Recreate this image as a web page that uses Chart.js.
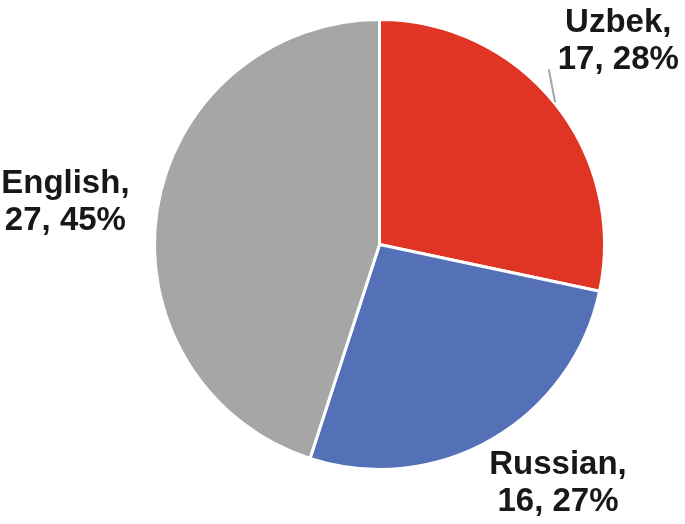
<!DOCTYPE html>
<html>
<head>
<meta charset="utf-8">
<script src="https://cdn.jsdelivr.net/npm/chart.js@4"></script>
<style>
    html, body { margin: 0; padding: 0; background: #ffffff; }
    #wrap { width: 685px; height: 524px; }
</style>
</head>
<body>
<div id="wrap"><canvas id="languageChart"></canvas></div>
<script>
const languageLabels = ["Uzbek", "Russian", "English"];
const languageCounts = [17, 16, 27];
const sliceColors = ["#e03424", "#5470b6", "#a6a6a6"];

// nudges for the outside labels, relative to the slice mid-angle anchor
const labelNudges = [[-6, -7], [21, -36], [-3, 5]];

const outsideLabels = {
    id: 'outsideLabels',
    afterDatasetsDraw(chart) {
        const ctx = chart.ctx;
        const meta = chart.getDatasetMeta(0);
        const total = languageCounts.reduce((a, b) => a + b, 0);
        ctx.save();
        ctx.font = 'bold 33px "Liberation Sans", Arial, sans-serif';
        ctx.fillStyle = '#181818';
        ctx.textAlign = 'center';
        ctx.textBaseline = 'alphabetic';
        meta.data.forEach(function (arc, i) {
            const p = arc.getProps(['x', 'y', 'startAngle', 'endAngle', 'outerRadius'], true);
            const mid = (p.startAngle + p.endAngle) / 2;
            const r = p.outerRadius * 1.4;
            const cx = p.x + Math.cos(mid) * r + labelNudges[i][0];
            const cy = p.y + Math.sin(mid) * r + labelNudges[i][1];
            const pct = Math.round(languageCounts[i] / total * 100);
            const line1 = languageLabels[i] + ',';
            const line2 = languageCounts[i] + ', ' + pct + '%';
            ctx.fillText(line1, cx, cy - 7);
            ctx.fillText(line2, cx, cy + 30);

            if (i === 0) {
                // leader line from slice edge to the label
                const w = ctx.measureText(line2).width;
                const sx = p.x + Math.cos(mid) * (p.outerRadius + 1);
                const sy = p.y + Math.sin(mid) * (p.outerRadius + 1);
                ctx.strokeStyle = '#a6a6a6';
                ctx.lineWidth = 2;
                ctx.beginPath();
                ctx.moveTo(sx, sy);
                ctx.lineTo(cx - w / 2 - 9, cy + 30);
                ctx.stroke();
            }
        });
        ctx.restore();
    }
};

document.addEventListener("DOMContentLoaded", function () {
    const ctxLanguage = document.getElementById('languageChart');
    new Chart(ctxLanguage, {
        type: 'pie',
        data: {
            labels: languageLabels,
            datasets: [{
                data: languageCounts,
                backgroundColor: sliceColors,
                borderColor: '#ffffff',
                borderWidth: 3
            }]
        },
        options: {
            responsive: true,
            maintainAspectRatio: false,
            animation: false,
            layout: {
                padding: { top: 18, bottom: 53, left: 153, right: 79 }
            },
            plugins: {
                legend: { display: false },
                tooltip: { enabled: false }
            }
        },
        plugins: [outsideLabels]
    });
});
</script>
</body>
</html>
